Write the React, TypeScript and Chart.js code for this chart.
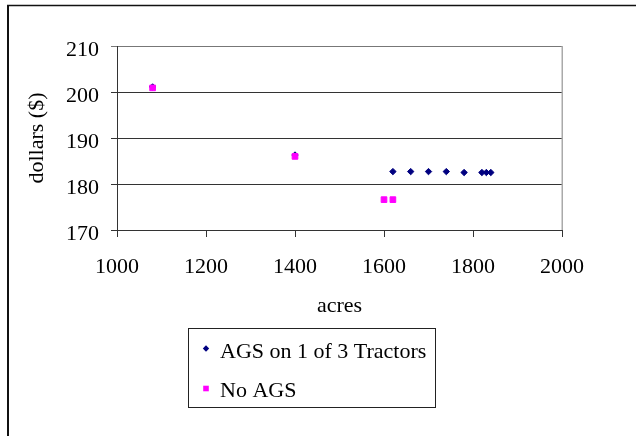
import { useEffect, useRef } from 'react';
import { Chart, registerables } from 'chart.js';

Chart.register(...registerables);

// ---- data ----
const seriesLabels = ['AGS on 1 of 3 Tractors', 'No AGS'];
const seriesColors = ['#000080', '#FF00FF'];
const agsAcres = [1080, 1400, 1620, 1660, 1700, 1740, 1780, 1820, 1830, 1840];
const agsDollars = [201.1, 186.3, 182.7, 182.7, 182.7, 182.7, 182.5, 182.5, 182.5, 182.5];
const noAgsAcres = [1080, 1400, 1600, 1620];
const noAgsDollars = [200.9, 186.0, 176.6, 176.6];
const xAxisRange = [1000, 2000, 200]; // min, max, step
const yAxisRange = [170, 210, 10];
const xTitle = 'acres';
const yTitle = 'dollars ($)';

const FONT = "'Liberation Serif', 'Times New Roman', serif";

const framePlugin = {
  id: 'frame',
  beforeDraw(chart: any) {
    const { ctx, width, height } = chart;
    ctx.save();
    ctx.fillStyle = '#ffffff';
    ctx.fillRect(0, 0, width, height);
    ctx.strokeStyle = '#111111';
    ctx.lineWidth = 2;
    ctx.beginPath();
    ctx.moveTo(8, 5);
    ctx.lineTo(8, height);
    ctx.stroke();
    ctx.lineWidth = 1.5;
    ctx.beginPath();
    ctx.moveTo(7, 5.5);
    ctx.lineTo(width, 5.5);
    ctx.stroke();
    ctx.restore();
  },
  afterDatasetsDraw(chart: any) {
    const { ctx, chartArea } = chart;
    ctx.save();
    ctx.strokeStyle = '#aaaaaa';
    ctx.lineWidth = 1.5;
    ctx.beginPath();
    ctx.moveTo(chartArea.right + 0.25, chartArea.top);
    ctx.lineTo(chartArea.right + 0.25, chartArea.bottom);
    ctx.stroke();
    ctx.restore();
  },
};

const legendPlugin = {
  id: 'boxLegend',
  afterDraw(chart: any) {
    const { ctx } = chart;
    const box = { x: 188.5, y: 328.5, w: 247, h: 79 };
    ctx.save();
    ctx.strokeStyle = '#222222';
    ctx.lineWidth = 1;
    ctx.strokeRect(box.x, box.y, box.w, box.h);
    ctx.font = `22px ${FONT}`;
    ctx.textBaseline = 'alphabetic';
    ctx.textAlign = 'left';
    const rows = [
      { mark: 348.5, base: 357.5 },
      { mark: 388.5, base: 397.3 },
    ];
    chart.data.datasets.forEach((ds: any, i: number) => {
      const r = rows[i];
      const mx = 206;
      ctx.fillStyle = ds.backgroundColor;
      ctx.beginPath();
      if (ds.pointStyle === 'rectRot') {
        ctx.moveTo(mx, r.mark - 3.2);
        ctx.lineTo(mx + 3.2, r.mark);
        ctx.lineTo(mx, r.mark + 3.2);
        ctx.lineTo(mx - 3.2, r.mark);
        ctx.closePath();
      } else {
        ctx.rect(mx - 2.8, r.mark - 2.8, 5.6, 5.6);
      }
      ctx.fill();
      ctx.fillStyle = '#000000';
      ctx.fillText(ds.label, 220, r.base);
    });
    ctx.restore();
  },
};

export default function App() {
  const ref = useRef<HTMLCanvasElement | null>(null);

  useEffect(() => {
    if (!ref.current) return;
    const chart = new Chart(ref.current, {
      type: 'scatter',
      data: {
        datasets: [
          {
            label: seriesLabels[0],
            data: agsAcres.map((x, i) => ({ x, y: agsDollars[i] })),
            backgroundColor: seriesColors[0],
            borderColor: seriesColors[0],
            pointStyle: 'rectRot',
            pointRadius: 3.2,
            borderWidth: 1,
            order: 1,
          },
          {
            label: seriesLabels[1],
            data: noAgsAcres.map((x, i) => ({ x, y: noAgsDollars[i] })),
            backgroundColor: seriesColors[1],
            borderColor: seriesColors[1],
            pointStyle: 'rect',
            pointRadius: 4,
            borderWidth: 1,
            order: 0,
          },
        ],
      },
      options: {
        responsive: false,
        animation: false,
        devicePixelRatio: 1,
        layout: { padding: { left: 0, top: 46, right: 74, bottom: 0 } },
        plugins: {
          legend: { display: false },
          tooltip: { enabled: false },
        },
        scales: {
          x: {
            type: 'linear',
            min: xAxisRange[0],
            max: xAxisRange[1],
            ticks: {
              stepSize: xAxisRange[2],
              color: '#000',
              font: { family: FONT, size: 22 },
              padding: 17,
              maxRotation: 0,
              callback: (v: any) => String(v),
            },
            grid: { drawOnChartArea: false, drawTicks: true, tickLength: 7, color: '#333' },
            border: { display: true, color: '#333', width: 1 },
            title: {
              display: true,
              text: xTitle,
              color: '#000',
              font: { family: FONT, size: 22 },
              padding: { top: 0, bottom: 116.5 },
            },
            afterFit: (s: any) => {
              s.height = 206;
            },
          },
          y: {
            type: 'linear',
            min: yAxisRange[0],
            max: yAxisRange[1],
            ticks: {
              stepSize: yAxisRange[2],
              color: '#000',
              font: { family: FONT, size: 22 },
              padding: 12,
              labelOffset: 4,
              callback: (v: any) => String(v),
            },
            grid: {
              drawTicks: true,
              tickLength: 6,
              color: (c: any) => (c.tick && c.tick.value === yAxisRange[1] ? '#777' : '#333'),
            },
            border: { display: true, color: '#333', width: 1 },
            title: {
              display: true,
              text: yTitle,
              color: '#000',
              font: { family: FONT, size: 22 },
              padding: { top: 24, bottom: 0 },
            },
            afterFit: (s: any) => {
              s.width = 117;
            },
          },
        },
      },
      plugins: [framePlugin, legendPlugin],
    });
    return () => chart.destroy();
  }, []);

  return (
    <div style={{ position: 'absolute', left: 0, top: 0, width: 636, height: 436, background: '#fff' }}>
      <canvas ref={ref} width={636} height={436} style={{ display: 'block', width: 636, height: 436 }} />
    </div>
  );
}
